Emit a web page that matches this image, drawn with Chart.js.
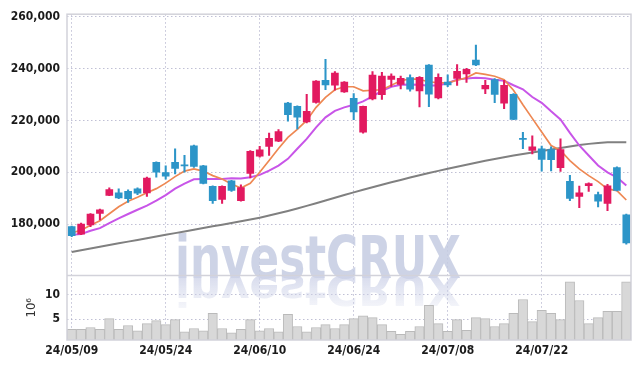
<!DOCTYPE html>
<html>
<head>
<meta charset="utf-8">
<script src="https://cdn.jsdelivr.net/npm/chart.js@4/dist/chart.umd.min.js"></script>
<style>
  html, body { margin: 0; padding: 0; background: #fff; }
  #wrap { width: 639px; height: 369px; }
</style>
</head>
<body>
<div id="wrap"><canvas id="chart" width="639" height="369"></canvas></div>
<script>
// candle chart - 60 trading days, price + volume panels

const dates = [
  '24/05/09','24/05/10','24/05/13','24/05/14','24/05/16','24/05/17','24/05/20','24/05/21','24/05/22','24/05/23',
  '24/05/24','24/05/27','24/05/28','24/05/29','24/05/30','24/05/31','24/06/03','24/06/04','24/06/05','24/06/07',
  '24/06/10','24/06/11','24/06/12','24/06/13','24/06/14','24/06/17','24/06/18','24/06/19','24/06/20','24/06/21',
  '24/06/24','24/06/25','24/06/26','24/06/27','24/06/28','24/07/01','24/07/02','24/07/03','24/07/04','24/07/05',
  '24/07/08','24/07/09','24/07/10','24/07/11','24/07/12','24/07/15','24/07/16','24/07/17','24/07/18','24/07/19',
  '24/07/22','24/07/23','24/07/24','24/07/25','24/07/26','24/07/29','24/07/30','24/07/31','24/08/01','24/08/02'
];

const open = [
  179000,176100,179700,184100,191100,192100,192600,193600,192000,203800,
  199900,203800,202900,210200,202500,194600,189500,196700,189000,199600,
  206200,210000,212000,226700,225500,219400,227000,235500,233600,231000,
  228600,215500,228300,230000,235900,233900,236600,231400,241400,228700,
  234800,236200,238000,243300,232200,235800,226700,230100,213100,208400,
  209100,208800,201800,196500,190700,194800,191400,188000,201800,183600
];
const high = [
  179200,180400,184100,185800,194000,193600,193200,194000,198100,204000,
  202500,209100,206500,210500,202700,194800,194800,196900,195200,208400,
  210000,215100,216500,227000,225700,230100,235400,243600,238900,235000,
  230400,225600,238900,238600,238000,237100,237600,237000,241600,238000,
  237600,241600,240100,249100,235500,236200,235500,230400,215400,214100,
  210100,209800,212900,198800,194700,195900,192400,195300,202100,183900
];
const low = [
  175100,175900,179000,181600,191000,189800,188400,191400,190700,198100,
  197300,199400,200000,201900,195500,188000,188000,192600,188800,197800,
  205800,206500,211800,219700,216700,219100,226700,231900,231700,230800,
  220300,215100,227900,228100,233200,232200,231300,225200,225300,228300,
  233100,233500,234700,241200,230400,226900,224600,220300,209100,207100,
  200400,200500,200300,189000,186300,192600,186600,185200,192800,172200
];
const close = [
  175500,180000,183900,185500,193300,190100,189800,191900,197800,200000,
  198500,201500,202500,202300,195700,189000,194600,193000,194100,208100,
  208700,213100,215700,222200,221300,223500,235200,233700,238300,234800,
  223300,225500,237500,237100,237100,236300,232100,236700,230200,236700,
  233700,239000,239800,241500,233600,230100,233600,220400,212700,209800,
  205000,204900,208800,189900,192100,195600,188800,194800,193000,172700
];

// volume, millions of shares
const volume = [
  2.9,2.9,3.3,2.9,5.1,2.9,3.7,2.6,4.1,4.7,
  3.9,4.9,2.4,3.1,2.6,6.2,3.1,2.2,2.9,4.9,
  2.6,3.1,2.4,6.0,3.5,2.4,3.3,3.9,3.1,3.9,
  5.1,5.7,5.3,3.9,2.5,1.9,2.5,3.5,7.8,4.1,
  2.5,4.9,2.7,5.3,5.1,3.5,4.1,6.2,9.0,4.5,
  6.8,6.2,4.9,12.6,8.8,4.1,5.3,6.6,6.6,12.6
];

// moving averages
const maShort = [
  176630,177600,179530,181280,183990,186710,188840,190390,192130,193680,
  195810,198330,200470,201320,200470,198720,197440,195500,193950,195740,
  200000,204530,209190,213450,216550,220040,225080,228950,231860,233020,
  233020,231470,231670,231860,233600,235350,236050,235930,234880,234570,
  234500,235540,236510,238370,237790,237090,235740,231670,226050,220810,
  215580,210350,208410,204530,201320,198720,196400,193570,192910,189300
];
const maMid = [
  175850,176120,177400,178450,180390,182170,183880,185540,187090,189030,
  191160,193680,195620,197290,197360,197360,197440,197670,197560,198060,
  198990,200660,202600,205190,209070,212870,217330,221200,223720,225080,
  226050,227400,229340,231470,233020,233800,233880,233800,233410,233600,
  234380,235810,236200,236510,236320,235740,235350,233600,232050,229070,
  226820,223530,220430,215190,210350,206470,202600,200000,198060,194850
];
const maLong = [
  169260,169920,170580,171240,171900,172560,173220,173880,174530,175190,
  175850,176510,177170,177830,178490,179150,179770,180390,181050,181740,
  182480,183290,184150,185040,186010,187020,188060,189110,190150,191200,
  192250,193260,194220,195190,196120,197050,197950,198840,199690,200540,
  201360,202130,202910,203680,204420,205120,205810,206470,207090,207670,
  208220,208800,209380,209960,210500,210970,211320,211550,211630,211590
];

const priceTicks = [180000, 200000, 220000, 240000, 260000];
const volumeTicks = [5, 10];

const UP = '#e21a60';
const DOWN = '#2c95c8';
const candleColors = open.map((o, i) => close[i] >= o ? UP : DOWN);
const FONT = '"DejaVu Sans Condensed", "DejaVu Sans", sans-serif';
const tickFont = { family: FONT, size: 12, weight: 'bold' };

// draws the watermark text + its faded reflection
const watermark = {
    id: 'watermark',
    beforeDatasetsDraw(chart) {
        const ctx = chart.ctx;
        const text = 'investCRUX';
        ctx.save();
        ctx.font = 'bold 58px ' + FONT;
        const w = ctx.measureText(text).width;
        const sx = 286 / w;
        ctx.translate(175, 278);
        ctx.scale(sx, 1);
        ctx.fillStyle = 'rgba(196,203,226,0.85)';
        ctx.textBaseline = 'alphabetic';
        ctx.fillText(text, 0, 0);
        ctx.scale(1, -0.75);
        const g = ctx.createLinearGradient(0, 0, 0, -45);
        g.addColorStop(0, 'rgba(205,210,232,0.75)');
        g.addColorStop(1, 'rgba(205,210,232,0.15)');
        ctx.fillStyle = g;
        ctx.fillText(text, 0, 4);
        ctx.restore();
    }
};

// panel frames
const frame = {
    id: 'frame',
    afterDraw(chart) {
        const {ctx, chartArea} = chart;
        const yb = chart.scales.y.bottom;
        ctx.save();
        ctx.strokeStyle = '#d2d2da';
        ctx.lineWidth = 1.5;
        ctx.strokeRect(chartArea.left, chartArea.top, chartArea.right - chartArea.left, chartArea.bottom - chartArea.top);
        ctx.beginPath();
        ctx.moveTo(chartArea.left, yb);
        ctx.lineTo(chartArea.right, yb);
        ctx.stroke();
        ctx.restore();
    }
};

const gridDots = { color: 'rgba(165,165,195,0.7)', lineWidth: 1, drawTicks: false };

new Chart(document.getElementById('chart').getContext('2d'), {
    type: 'bar',
    data: {
        labels: dates,
        datasets: [
            { type: 'bar', data: open.map((o, i) => [o, close[i]]), backgroundColor: candleColors,
              yAxisID: 'y', barThickness: 7, grouped: false, minBarLength: 1, order: 0 },
            { type: 'bar', data: low.map((l, i) => [l, high[i]]), backgroundColor: candleColors,
              yAxisID: 'y', barThickness: 1.4, grouped: false, order: 1 },
            { type: 'line', data: maShort, borderColor: '#ee8853', borderWidth: 1.7, pointRadius: 0, yAxisID: 'y', order: 2 },
            { type: 'line', data: maMid, borderColor: '#c855e8', borderWidth: 2, pointRadius: 0, yAxisID: 'y', order: 3 },
            { type: 'line', data: maLong, borderColor: '#808080', borderWidth: 2, pointRadius: 0, yAxisID: 'y', order: 4 },
            { type: 'bar', data: volume, backgroundColor: '#d8d8d8', borderColor: '#bababa', borderWidth: 1,
              yAxisID: 'yv', barPercentage: 1, categoryPercentage: 1, grouped: false, order: 5 }
        ]
    },
    options: {
        responsive: false,
        animation: false,
        layout: { padding: { left: 0, right: 8, top: 12, bottom: 0 } },
        plugins: { legend: { display: false }, tooltip: { enabled: false } },
        scales: {
            x: {
                offset: true,
                grid: { ...gridDots, offset: false },
                border: { display: false, dash: [1.5, 2.5] },
                ticks: { autoSkip: false, maxRotation: 0, padding: 4, color: '#1a1a1a', font: tickFont },
                afterBuildTicks: s => { s.ticks = s.ticks.filter(t => t.value % 10 === 0); },
                afterFit: s => { s.height = 29; }
            },
            y: {
                position: 'left', stack: 'panels', stackWeight: 4.05, weight: 1,
                min: 160150, max: 261040,
                grid: gridDots,
                border: { display: false, dash: [1.5, 2.5] },
                ticks: { stepSize: 20000, includeBounds: false, padding: 7, color: '#1a1a1a',
                         font: tickFont, callback: v => v.toLocaleString('en-US') },
                afterBuildTicks: s => { s.ticks = priceTicks.map(v => ({ value: v })); },
                afterFit: s => { s.width = 67; }
            },
            yv: {
                position: 'left', stack: 'panels', stackWeight: 1, weight: 0,
                min: 0.75, max: 13.9,
                grid: gridDots,
                border: { display: false, dash: [1.5, 2.5] },
                title: { display: true, text: '10\u2076', color: '#333', padding: { top: 24, bottom: 0 },
                         font: { family: FONT, size: 13 } },
                ticks: { stepSize: 5, includeBounds: false, padding: 7, color: '#1a1a1a', font: tickFont },
                afterBuildTicks: s => { s.ticks = volumeTicks.map(v => ({ value: v })); },
                afterFit: s => { s.width = 67; }
            }
        }
    },
    plugins: [watermark, frame]
});
</script>
</body>
</html>
